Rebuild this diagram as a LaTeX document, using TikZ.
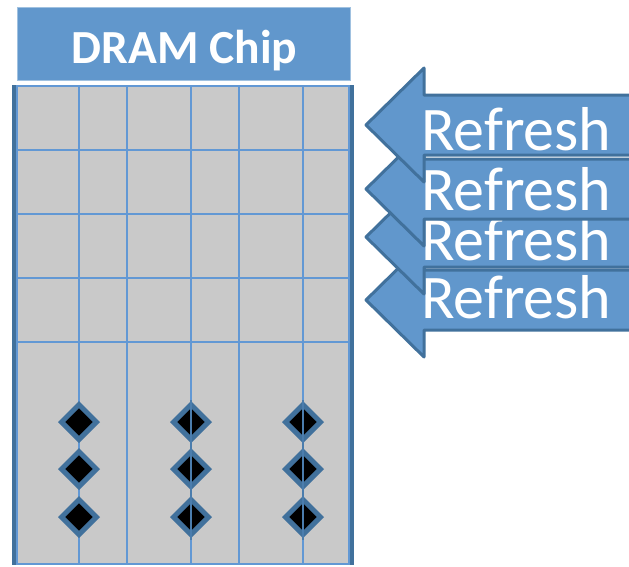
\documentclass[tikz,border=0pt]{standalone}
\usepackage{fontspec}
\setmainfont{Carlito}
\usetikzlibrary{shapes.geometric}

\definecolor{chipblue}{RGB}{97,151,204}
\definecolor{edgeblue}{RGB}{65,113,156}
\definecolor{gridblue}{RGB}{98,152,212}
\definecolor{cellgrey}{RGB}{201,201,201}

\tikzset{
  headerbox/.style={rectangle, fill=chipblue, draw=chipblue!60!white, line width=0.8pt,
    minimum width=333pt, minimum height=73pt, inner sep=0pt},
  headertext/.style={anchor=base, text=white, font=\bfseries\fontsize{47.5}{47.5}\selectfont, inner sep=0pt},
  chipbody/.style={rectangle, fill=cellgrey, draw=gridblue, line width=1.5pt,
    minimum width=332pt, minimum height=478pt, inner sep=0pt},
  sideedge/.style={draw=edgeblue, line width=4pt},
  gridline/.style={draw=gridblue, line width=2pt},
  cellmark/.style={diamond, aspect=1, fill=black, draw=edgeblue, line width=5pt,
    minimum width=37pt, minimum height=37pt, inner sep=0pt},
  refreshshape/.style={fill=chipblue, draw=edgeblue, line width=3pt, line join=round},
  refreshtext/.style={anchor=base west, text=white, font=\fontsize{62}{62}\selectfont, inner sep=0pt},
}

\begin{document}
\begin{tikzpicture}[x=1pt, y=-1pt]
\useasboundingbox (0,0) rectangle (629,566);
\clip (0,0) rectangle (629,566);

% chip title bar
\node[headerbox] (chip) at (183.5,43.5) {};
\node[headertext] (chiplabel) at (184.5,63) {DRAM Chip};

% memory array
\node[chipbody] (body) at (183,325) {};
\draw[sideedge] ([xshift=-2pt]body.north west) -- ([xshift=-2pt]body.south west);
\draw[sideedge] ([xshift=2pt]body.north east) -- ([xshift=2pt]body.south east);

% rows
\foreach \r in {150,214,278,342}
  \draw[gridline] (17,\r) -- (349,\r);
% columns
\foreach \c in {79,127,191,239,303}
  \draw[gridline] (\c,86) -- (\c,564);

% stored cells in the lower region
\foreach \c [count=\i] in {79,191,303}
  \foreach \r [count=\j] in {422,469,517}
    \node[cellmark] (cell-\i-\j) at (\c,\r) {};
\foreach \c in {191,303}
  \draw[draw=edgeblue!70!gridblue, line width=1.5pt] (\c,400) -- (\c,540);

% refresh commands, lowest drawn first
\foreach \m/\b in {300/318, 237/260, 189/210, 125/150} {
  \path[refreshshape]
    (660,\m-30) -- (424,\m-30) -- (424,\m-57) -- (366,\m)
    -- (424,\m+57) -- (424,\m+30) -- (660,\m+30) -- cycle;
  \node[refreshtext] (refresh-\m) at (421,\b) {Refresh};
}
\end{tikzpicture}
\end{document}
